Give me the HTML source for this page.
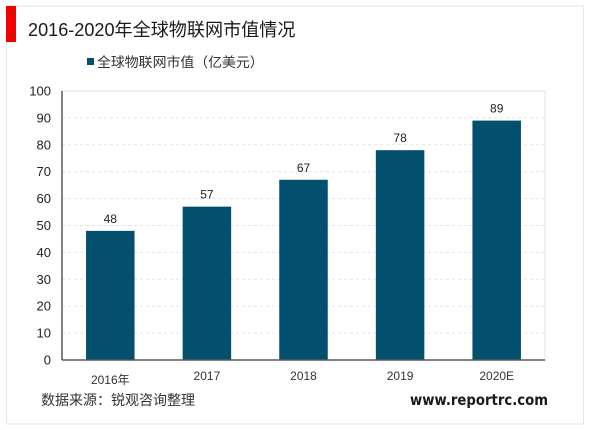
<!DOCTYPE html>
<html lang="zh">
<head>
<meta charset="utf-8">
<style>
html,body{margin:0;padding:0;background:#fff;}
body{width:600px;height:430px;overflow:hidden;position:relative;font-family:"Liberation Sans","Noto Sans CJK SC",sans-serif;}
svg{position:absolute;left:0;top:0;}
text{font-family:"Liberation Sans","Noto Sans CJK SC",sans-serif;}
</style>
</head>
<body>
<svg id="chart" width="600" height="430" viewBox="0 0 600 430">
  <rect x="6.5" y="6" width="577" height="418" fill="#fff" stroke="#e6e6e6" stroke-width="1"/>
  <rect x="6" y="6" width="10" height="36" fill="#f00000"/>
  <text x="28" y="36" font-size="18.1" fill="#1a1a1a">2016-2020年全球物联网市值情况</text>
  <rect x="87" y="58" width="7" height="7" fill="#02506e"/>
  <text x="97" y="67" font-size="13.9" fill="#333">全球物联网市值（亿美元）</text>
  <g id="plot"></g>
  <text x="41" y="405" font-size="14" fill="#333">数据来源：锐观咨询整理</text>
  <text x="548" y="405" text-anchor="end" font-size="15" font-weight="bold" fill="#1a1a1a" style="font-family:'DejaVu Sans',sans-serif" textLength="138" lengthAdjust="spacingAndGlyphs">www.reportrc.com</text>
</svg>
<script>
const categories = ['2016年', '2017', '2018', '2019', '2020E'];
const seriesValues = [48, 57, 67, 78, 89];
const yTicks = [0, 10, 20, 30, 40, 50, 60, 70, 80, 90, 100];

const NS = 'http://www.w3.org/2000/svg';
const plot = document.getElementById('plot');
const left = 62, right = 545, top_ = 91, bottom = 360;
const yMax = 100;
const band = (right - left) / categories.length;
const barWidth = 48.5;

function xCenter(i) { return left + band * (i + 0.5); }
function yPos(v) { return bottom - (v / yMax) * (bottom - top_); }
function make(tag, attrs) {
  const el = document.createElementNS(NS, tag);
  Object.keys(attrs).forEach(function (k) { el.setAttribute(k, attrs[k]); });
  plot.appendChild(el);
  return el;
}

yTicks.forEach(function (t) {
  const y = yPos(t);
  if (t > 0) {
    const grid = make('line', { x1: left, x2: right, y1: y, y2: y, stroke: t === yMax ? '#e2e2e2' : '#e4e4e4', 'stroke-width': 1, 'stroke-dasharray': t === yMax ? 'none' : '3 3' });
    
    
  }
  const label = make('text', { x: 51, y: y + 4.5, 'text-anchor': 'end', 'font-size': 13, fill: '#222' });
  
  
  label.textContent = t;
});

make('line', { x1: right, x2: right, y1: top_, y2: bottom, stroke: '#e6e6e6', 'stroke-width': 1 });

categories.forEach(function (c, i) {
  const v = seriesValues[i];
  const cx = xCenter(i);
  const bar = make('rect', { x: cx - barWidth / 2, y: yPos(v), width: barWidth, height: bottom - yPos(v), fill: '#02506e' });
  
  

  const value = make('text', { x: cx, y: yPos(v) - 8, 'text-anchor': 'middle', 'font-size': 12, fill: '#222' });
  
  
  value.textContent = v;

  const cat = make('text', { x: cx, y: i === 0 ? 384 : 380, 'text-anchor': 'middle', 'font-size': 12, fill: '#333' });
  
  
  cat.textContent = c;
});

const yAxis = make('line', { x1: left, x2: left, y1: top_, y2: bottom, stroke: '#595959', 'stroke-width': 1.5 });


const xAxis = make('line', { x1: left, x2: right, y1: bottom, y2: bottom, stroke: '#595959', 'stroke-width': 1.5 });


</script>
</body>
</html>
